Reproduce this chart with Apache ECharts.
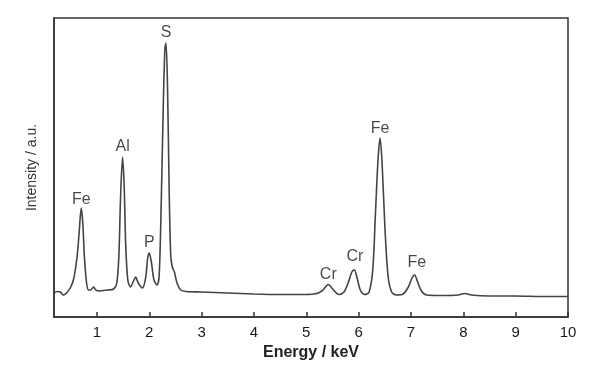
<!DOCTYPE html>
<html><head><meta charset="utf-8">
<script src="https://cdn.jsdelivr.net/npm/echarts@6/dist/echarts.min.js"></script>
<style>html,body{margin:0;padding:0;background:#fff}#c{width:600px;height:372px}</style>
</head><body><div id="c"></div>
<script>
// Energy (keV) and intensity (a.u.)
const energy = [0.18,0.25,0.30,0.36,0.42,0.50,0.56,0.62,0.66,0.70,0.73,0.76,0.80,0.84,0.88,0.935,0.98,1.05,1.20,1.32,1.38,1.42,1.45,1.49,1.52,1.55,1.59,1.64,1.70,1.74,1.79,1.87,1.93,1.97,2.00,2.04,2.09,2.15,2.19,2.23,2.27,2.30,2.32,2.35,2.38,2.41,2.44,2.48,2.53,2.60,2.70,3.00,3.50,4.00,4.50,4.90,5.15,5.30,5.42,5.52,5.62,5.72,5.80,5.87,5.92,5.97,6.04,6.12,6.20,6.27,6.32,6.37,6.41,6.45,6.50,6.56,6.63,6.72,6.85,6.95,7.02,7.07,7.12,7.20,7.30,7.60,7.90,8.03,8.15,8.50,9.00,9.50,10.00];
const intensity = [24,25.5,25,22,24,30,39,60,84,109,94,61,35,27,27,30,27,26,27,28,34,62,117,160,132,72,37,30,36,40,34,29,39,59,64,55,37,32,42,117,217,269,274,227,127,62,50,45,34,27,25.5,25,24,23,22.5,22.5,23,26,32.5,27,22.5,25,34,45,47,39,26,22.5,25,47,102,157,179,152,92,42,25,22,23,30,39,42,36,26,22,21.5,22,23.5,22,21,21,20.5,20.5];
const peakNames = ['Fe','Al','P','S','Cr','Cr','Fe','Fe'];
const peakEnergy = [0.70,1.49,2.00,2.32,5.42,5.93,6.41,7.11];
const peakLabelY = [117,170,74,284,42,60,188,54];
const tickValues = [1,2,3,4,5,6,7,8,9,10];

const chart = echarts.init(document.getElementById('c'));
const font = '"Liberation Sans", Arial, sans-serif';
chart.setOption({
  animation:false,
  grid:{left:54,right:32,top:18,bottom:55,show:true,borderColor:'#333',borderWidth:1.5,backgroundColor:'transparent'},
  xAxis:{type:'value',min:0.18,max:10,
    name:'Energy / keV',nameLocation:'middle',nameGap:25,
    nameTextStyle:{fontFamily:font,fontSize:16,color:'#222',fontWeight:'bold'},
    axisLine:{lineStyle:{color:'#333',width:1.5}},
    axisTick:{inside:true,length:5,customValues:tickValues,lineStyle:{color:'#333',width:1.5}},
    axisLabel:{customValues:tickValues,fontFamily:font,fontSize:15,color:'#1a1a1a',margin:8},
    splitLine:{show:false}},
  yAxis:{type:'value',min:0,max:299,
    name:'Intensity / a.u.',nameLocation:'middle',nameGap:15,
    nameTextStyle:{fontFamily:font,fontSize:14,color:'#333'},
    axisLine:{show:true,lineStyle:{color:'#333',width:1.5}},
    axisTick:{show:false},axisLabel:{show:false},splitLine:{show:false}},
  series:[
    {type:'line',data:energy.map((e,i)=>[e,intensity[i]]),showSymbol:false,smooth:0.3,
     lineStyle:{color:'#444',width:1.6}},
    {type:'scatter',symbolSize:0,silent:true,
     data:peakEnergy.map((e,i)=>({value:[e,peakLabelY[i]],name:peakNames[i]})),
     label:{show:true,position:'inside',formatter:p=>p.name,fontFamily:font,fontSize:16,color:'#1a1a1a'}}
  ]
});
</script></body></html>
